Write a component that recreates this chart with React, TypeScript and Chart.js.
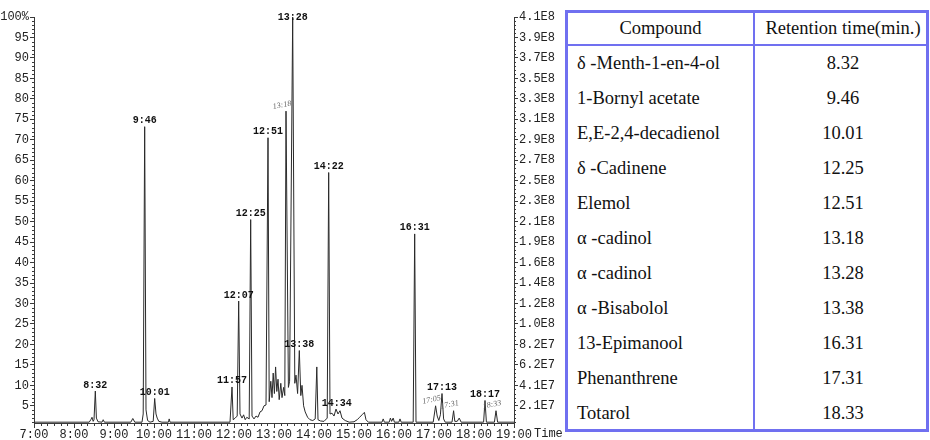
import React, { useEffect, useRef } from "react";
import { Chart, registerables } from "chart.js";

Chart.register(...registerables);

// ---- chromatogram trace (retention time in decimal minutes, relative abundance %) ----
const traceTimes = [
  7.0, 7.5, 8.0, 8.38, 8.42, 8.45, 8.48, 8.5, 8.533, 8.56, 8.6, 8.7, 8.73, 8.76,
  9.42, 9.47, 9.52, 9.7, 9.73, 9.767, 9.8, 9.84, 9.9, 9.98, 10.017, 10.05, 10.08, 10.12,
  10.2, 10.36, 10.38, 10.4, 11.9, 11.95, 11.98, 12.03, 12.08, 12.117, 12.15, 12.2, 12.24,
  12.28, 12.32, 12.38, 12.417, 12.45, 12.5, 12.55, 12.6, 12.65, 12.7, 12.75, 12.8, 12.85,
  12.88, 12.92, 12.95, 12.98, 13.01, 13.04, 13.07, 13.1, 13.13, 13.17, 13.2, 13.24, 13.27,
  13.3, 13.36, 13.39, 13.467, 13.52, 13.55, 13.59, 13.633, 13.67, 13.7, 13.74, 13.78, 13.84,
  13.9, 13.97, 14.03, 14.07, 14.1, 14.16, 14.25, 14.33, 14.367, 14.4, 14.45, 14.5, 14.55,
  14.6, 14.65, 14.7, 14.78, 14.88, 15.0, 15.08, 15.14, 15.2, 15.26, 15.3, 15.36, 15.7, 15.73,
  15.76, 15.88, 15.91, 15.94, 15.98, 16.01, 16.12, 16.15, 16.18, 16.48, 16.517, 16.55, 16.98,
  17.04, 17.08, 17.12, 17.16, 17.2, 17.24, 17.28, 17.45, 17.49, 17.52, 17.58, 17.63, 17.68,
  18.24, 18.275, 18.31, 18.51, 18.55, 18.59, 19.0,
];
const traceValues = [
  1.0, 1.0, 1.0, 1.0, 1.6, 2.2, 1.2, 1.6, 8.6, 2.0, 1.1, 1.0, 1.6, 1.0,
  1.0, 1.9, 1.0, 1.0, 3.0, 73.2, 4.0, 1.4, 1.0, 1.2, 6.8, 3.0, 2.0, 1.2,
  1.0, 1.0, 1.8, 1.0, 1.0, 9.6, 1.6, 2.0, 2.5, 30.6, 3.0, 2.0, 2.8,
  1.6, 2.2, 1.8, 50.5, 2.5, 1.8, 2.5, 2.2, 3.5, 3.8, 5.0, 5.2, 70.5,
  6.0, 11.0, 7.0, 13.0, 8.0, 14.5, 8.5, 11.5, 6.5, 10.5, 7.0, 9.5, 7.5,
  77.0, 9.5, 11.0, 100, 10.5, 12.5, 8.0, 18.5, 7.5, 10.0, 5.0, 3.5, 2.2,
  1.6, 1.4, 1.8, 14.5, 1.6, 1.3, 1.2, 2.0, 62.0, 3.0, 3.2, 2.5, 4.2,
  3.0, 3.8, 2.0, 1.4, 1.0, 1.1, 1.6, 2.2, 2.8, 3.4, 1.6, 1.0, 1.0, 1.8,
  1.0, 1.0, 2.0, 1.2, 2.0, 1.0, 1.0, 1.8, 1.0, 1.0, 47.0, 1.0, 1.0,
  5.0, 2.5, 1.4, 2.8, 8.0, 1.8, 1.0, 1.0, 3.8, 1.2, 1.2, 2.0, 1.0,
  1.0, 6.3, 1.0, 1.0, 3.8, 1.0, 1.0,
];

// ---- printed peak labels (anchored at the peak apex) ----
const peakLabelText = ["8:32", "9:46", "10:01", "11:57", "12:07", "12:25", "12:51", "13:28", "13:38", "14:22", "14:34", "16:31", "17:13", "18:17"];
const peakLabelTime = [8.533, 9.767, 10.017, 11.95, 12.117, 12.417, 12.85, 13.467, 13.633, 14.367, 14.567, 16.517, 17.2, 18.275];
const peakLabelValue = [8.6, 73.2, 6.8, 9.6, 30.6, 50.5, 70.5, 100, 18.5, 62.0, 4.2, 47.0, 8.0, 6.3];

// ---- hand-written peak labels ----
const handLabelText = ["13:18", "17:05", "17:31", "18:33"];
const handLabelTime = [13.3, 17.04, 17.49, 18.55];
const handLabelValue = [77.0, 5.0, 3.8, 3.8];

// ---- axes ----
const xTickValues = [7, 8, 9, 10, 11, 12, 13, 14, 15, 16, 17, 18, 19];
const xTickLabels = ["7:00", "8:00", "9:00", "10:00", "11:00", "12:00", "13:00", "14:00", "15:00", "16:00", "17:00", "18:00", "19:00"];
const leftTickValues = [5, 10, 15, 20, 25, 30, 35, 40, 45, 50, 55, 60, 65, 70, 75, 80, 85, 90, 95, 100];
const leftTickLabels = ["5", "10", "15", "20", "25", "30", "35", "40", "45", "50", "55", "60", "65", "70", "75", "80", "85", "90", "95", "100%"];
const rightTickLabels = ["2.1E7", "4.1E7", "6.2E7", "8.2E7", "1.0E8", "1.2E8", "1.4E8", "1.6E8", "1.9E8", "2.1E8", "2.3E8", "2.5E8", "2.7E8", "2.9E8", "3.1E8", "3.3E8", "3.5E8", "3.7E8", "3.9E8", "4.1E8"];

// ---- table ----
const compounds = [
  "δ -Menth-1-en-4-ol",
  "1-Bornyl acetate",
  "E,E-2,4-decadienol",
  "δ -Cadinene",
  "Elemol",
  "α -cadinol",
  "α -cadinol",
  "α -Bisabolol",
  "13-Epimanool",
  "Phenanthrene",
  "Totarol",
];
const retentionTimes = ["8.32", "9.46", "10.01", "12.25", "12.51", "13.18", "13.28", "13.38", "16.31", "17.31", "18.33"];

const MONO = '"Liberation Mono", "DejaVu Sans Mono", monospace';
const AXIS = "#3a3a3a";
const BLUE = "#7070f0";

const overlayPlugin = {
  id: "overlay",
  afterDraw(chart: any) {
    const { ctx, chartArea, scales } = chart;
    const xs = scales.x;
    const ys = scales.y;
    ctx.save();
    // minor ticks
    ctx.strokeStyle = AXIS;
    ctx.lineWidth = 1;
    ctx.beginPath();
    for (let v = 1; v < 100; v++) {
      if (v % 5 === 0) continue;
      const py = Math.round(ys.getPixelForValue(v)) + 0.5;
      ctx.moveTo(chartArea.left - 2, py);
      ctx.lineTo(chartArea.left, py);
      ctx.moveTo(chartArea.right, py);
      ctx.lineTo(chartArea.right + 2, py);
    }
    for (let i = 1; i < 72; i++) {
      if (i % 6 === 0) continue;
      const px = Math.round(xs.getPixelForValue(7 + i / 6)) + 0.5;
      ctx.moveTo(px, chartArea.bottom);
      ctx.lineTo(px, chartArea.bottom + 3);
    }
    ctx.stroke();

    // printed peak labels
    ctx.fillStyle = "#111";
    ctx.font = `bold 10px ${MONO}`;
    ctx.textAlign = "center";
    ctx.textBaseline = "middle";
    peakLabelText.forEach((t, i) => {
      const px = xs.getPixelForValue(peakLabelTime[i]);
      let py = ys.getPixelForValue(peakLabelValue[i]) - 6;
      if (py < chartArea.top) py = chartArea.top;
      ctx.fillText(t, px, py);
    });

    // hand-written labels
    ctx.fillStyle = "#666";
    ctx.font = 'italic 8px "Liberation Serif", serif';
    handLabelText.forEach((t, i) => {
      const px = xs.getPixelForValue(handLabelTime[i]);
      const py = ys.getPixelForValue(handLabelValue[i]) - 6;
      ctx.save();
      ctx.translate(px - 4, py);
      ctx.rotate(-0.2);
      ctx.fillText(t, 0, 0);
      ctx.restore();
    });

    // "Time" axis word
    ctx.fillStyle = "#222";
    ctx.font = `12px ${MONO}`;
    ctx.textAlign = "left";
    ctx.fillText("Time", chartArea.right + 20, chartArea.bottom + 11);
    ctx.restore();
  },
};

export default function App() {
  const ref = useRef<HTMLCanvasElement>(null);

  useEffect(() => {
    const data = traceTimes.map((t, i) => ({ x: t, y: traceValues[i] }));
    const chart = new Chart(ref.current as HTMLCanvasElement, {
      type: "line",
      data: {
        datasets: [
          {
            data,
            borderColor: "#2a2a2a",
            borderWidth: 1,
            pointRadius: 0,
            tension: 0,
            fill: false,
          },
        ],
      },
      options: {
        animation: false,
        responsive: false,
        devicePixelRatio: 1,
        layout: { padding: { top: 17, left: 0, right: 0, bottom: 0 } },
        plugins: { legend: { display: false }, tooltip: { enabled: false } },
        scales: {
          x: {
            type: "linear",
            min: 7,
            max: 19,
            afterBuildTicks: (s: any) => {
              s.ticks = xTickValues.map((v) => ({ value: v }));
            },
            afterFit: (s: any) => {
              s.height = 17;
            },
            ticks: {
              autoSkip: false,
              maxRotation: 0,
              padding: 0,
              color: "#222",
              font: { family: MONO, size: 12 },
              callback: (_v: any, i: number) => xTickLabels[i],
            },
            grid: { drawOnChartArea: false, tickLength: 5, color: AXIS },
            border: { display: true, color: AXIS },
          },
          y: {
            position: "left",
            min: 0.8,
            max: 100,
            afterBuildTicks: (s: any) => {
              s.ticks = leftTickValues.map((v) => ({ value: v }));
            },
            afterFit: (s: any) => {
              s.width = 34;
            },
            ticks: {
              autoSkip: false,
              padding: 1,
              color: "#222",
              font: { family: MONO, size: 12 },
              callback: (_v: any, i: number) => leftTickLabels[i],
            },
            grid: { drawOnChartArea: false, tickLength: 4, color: AXIS },
            border: { display: true, color: AXIS },
          },
          y2: {
            position: "right",
            min: 0.8,
            max: 100,
            afterBuildTicks: (s: any) => {
              s.ticks = leftTickValues.map((v) => ({ value: v }));
            },
            afterFit: (s: any) => {
              s.width = 51;
            },
            ticks: {
              autoSkip: false,
              padding: 1,
              color: "#222",
              font: { family: MONO, size: 12 },
              callback: (_v: any, i: number) => rightTickLabels[i],
            },
            grid: { drawOnChartArea: false, tickLength: 4, color: AXIS },
            border: { display: true, color: AXIS },
          },
        },
      },
      plugins: [overlayPlugin],
    });
    return () => chart.destroy();
  }, []);

  const rowH = 35;
  return (
    <div style={{ position: "fixed", left: 0, top: 0, width: 930, height: 440, background: "#fff", overflow: "hidden" }}>
      <canvas ref={ref} width={565} height={440} style={{ position: "absolute", left: 0, top: 0, width: 565, height: 440 }} />
      <div
        style={{
          position: "absolute",
          left: 565,
          top: 10,
          width: 364,
          height: 422,
          border: `3px solid ${BLUE}`,
          boxSizing: "border-box",
          fontFamily: '"Liberation Serif", "DejaVu Serif", serif',
          fontSize: 18.5,
          color: "#111",
        }}
      >
        <div style={{ position: "absolute", left: 185, top: 0, width: 2, height: 416, background: BLUE }} />
        <div style={{ position: "absolute", left: 0, top: 31, width: 358, height: 2, background: BLUE }} />
        <div style={{ position: "absolute", left: 0, top: 0, width: 185, height: 31, lineHeight: "31px", textAlign: "center" }}>Compound</div>
        <div style={{ position: "absolute", left: 190, top: 0, width: 170, height: 31, lineHeight: "31px", textAlign: "center" }}>Retention time(min.)</div>
        {compounds.map((c, i) => (
          <React.Fragment key={i}>
            <div style={{ position: "absolute", left: 9, top: 33 + i * rowH, height: rowH, lineHeight: `${rowH}px`, whiteSpace: "nowrap" }}>{c}</div>
            <div style={{ position: "absolute", left: 190, width: 170, top: 33 + i * rowH, height: rowH, lineHeight: `${rowH}px`, textAlign: "center" }}>
              {retentionTimes[i]}
            </div>
          </React.Fragment>
        ))}
      </div>
    </div>
  );
}
